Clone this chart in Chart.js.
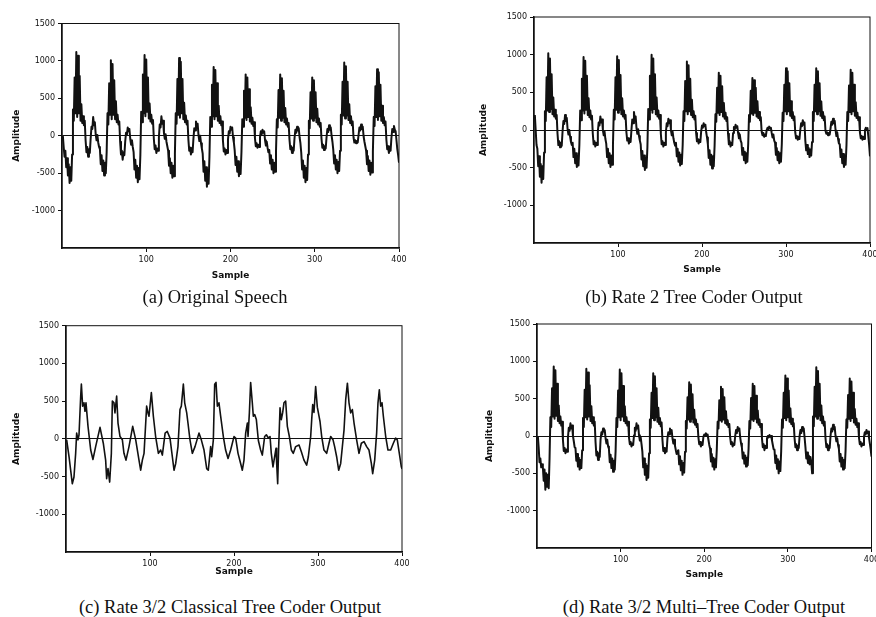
<!DOCTYPE html>
<html>
<head>
<meta charset="utf-8">
<script src="https://cdn.jsdelivr.net/npm/chart.js@4.4.0/dist/chart.umd.min.js"></script>
<style>
  html, body { margin: 0; padding: 0; background: #fff; }
  body { width: 876px; height: 617px; position: relative; overflow: hidden; }
  .plot { position: absolute; }
  .caption { position: absolute; font-family: "Liberation Serif", "Times New Roman", serif; font-size: 18.5px; color: #111;
             white-space: nowrap; transform: translate(-50%, -50%); }
</style>
</head>
<body>
<div class="plot" style="left:0px;top:15px;width:420px;height:275px"><canvas id="chartA"></canvas></div>
<div class="plot" style="left:472px;top:9px;width:404px;height:276px"><canvas id="chartB"></canvas></div>
<div class="plot" style="left:4px;top:318px;width:420px;height:276px"><canvas id="chartC"></canvas></div>
<div class="plot" style="left:475px;top:316px;width:401px;height:274px"><canvas id="chartD"></canvas></div>

<div class="caption" style="left:215px;top:297px">(a) Original Speech</div>
<div class="caption" style="left:694px;top:297px">(b) Rate 2 Tree Coder Output</div>
<div class="caption" style="left:230px;top:607px">(c) Rate 3/2 Classical Tree Coder Output</div>
<div class="caption" style="left:704px;top:607px">(d) Rate 3/2 Multi–Tree Coder Output</div>

<script>
// tick labels
const xTicks = [100, 200, 300, 400];
const yTicks = [1500, 1000, 500, 0, -500, -1000];

// (a) original speech, one value per sample (1..400)
const ampA = [
  0, -150, -280,
  -200,-420,-300,-530,-380,-630,-420,-600,-250,350,200,780,300,1120,250,1070,300,800,200,420,170,260,140,200,-60,-220,-150,-280,-180,-230,-40,120,90,250,140,180,20,-60,10,-90,-150,
  -180,-380,-260,-470,-330,-530,-360,-500,-220,300,150,700,280,1010,220,960,280,740,220,460,180,280,150,190,-80,-250,-200,-320,-220,-260,-80,40,10,110,60,90,-40,-120,-60,-150,
  -220,-450,-320,-560,-400,-620,-430,-580,-260,320,180,820,300,1080,260,1020,320,780,230,430,190,280,160,210,-40,-180,-130,-230,-170,-200,-20,150,110,260,160,200,40,-40,20,-80,-140,
  -200,-400,-300,-500,-360,-560,-400,-540,-240,300,160,760,280,1040,240,990,300,760,220,440,180,270,150,200,-50,-200,-160,-250,-180,-220,-40,100,70,190,120,160,10,-70,0,-100,-170,
  -240,-480,-340,-600,-420,-680,-450,-640,-280,250,120,680,260,920,220,880,260,700,200,400,170,260,140,190,-60,-210,-170,-250,-190,-230,-50,60,30,120,80,110,-20,-90,
  -200,-390,-280,-480,-340,-540,-380,-510,-220,220,120,600,240,820,210,780,250,620,190,380,160,240,130,180,-30,-140,-100,-160,-120,-150,-20,60,20,80,40,60,-60,-130,-80,-160,-220,
  -190,-370,-260,-450,-320,-500,-360,-480,-210,220,110,610,240,820,200,770,240,600,180,370,150,230,120,170,-50,-180,-140,-230,-160,-200,-30,80,40,120,70,100,-20,-100,
  -230,-450,-330,-560,-400,-620,-430,-590,-250,200,100,580,230,780,200,740,240,580,180,360,150,230,120,170,-40,-160,-120,-190,-140,-170,-20,90,50,140,80,110,0,-80,
  -190,-370,-260,-450,-320,-500,-350,-470,-200,280,150,720,270,980,230,930,270,720,210,420,170,260,140,190,-20,-90,-60,-100,-70,-90,10,110,70,150,90,120,-10,-80,-140,
  -200,-380,-270,-470,-330,-520,-360,-490,-210,250,130,660,250,890,210,850,260,680,200,400,170,250,140,190,-50,-180,-140,-230,-160,-200,-30,90,50,130,80,60,-60,-180,-260,-360
];

// (b) rate 2 tree coder output
const ampB = [
  200, 0, -200,
  -250,-480,-350,-620,-450,-700,-480,-650,-300,250,120,700,260,1020,240,950,280,740,210,430,180,270,150,200,-50,-200,-150,-230,-170,-210,-20,120,80,200,120,160,10,-60,0,-90,-160,-200,
  -170,-360,-250,-440,-310,-490,-340,-470,-200,260,130,680,260,970,220,920,270,720,200,420,170,260,140,190,-50,-190,-150,-220,-170,-200,-20,100,60,180,100,140,0,-70,-20,-120,
  -180,-360,-250,-440,-310,-490,-340,-460,-200,270,140,700,270,980,230,930,270,730,210,420,180,260,150,200,-30,-140,-110,-180,-130,-160,0,140,90,240,140,180,30,-50,10,-80,-140,
  -190,-390,-280,-480,-340,-530,-370,-500,-230,280,140,720,270,1000,230,950,280,740,210,430,180,260,150,200,-50,-190,-150,-220,-170,-200,-30,90,50,150,90,130,0,-70,-20,-110,-170,-210,
  -170,-350,-250,-420,-300,-470,-330,-450,-200,250,120,650,250,910,210,860,250,680,200,400,170,250,140,190,-40,-150,-120,-180,-130,-160,-20,60,30,90,50,70,-30,-100,
  -190,-370,-270,-460,-330,-510,-350,-480,-210,210,110,560,230,760,200,720,240,580,180,360,150,230,120,170,-50,-190,-150,-220,-170,-200,-40,40,10,70,30,50,-40,-110,-60,-140,
  -170,-330,-240,-400,-290,-440,-310,-420,-190,200,110,520,220,690,200,660,230,560,180,380,160,240,130,170,-20,-70,-40,-90,-60,-80,0,30,10,45,20,30,-40,-100,-60,-140,
  -170,-330,-240,-400,-290,-440,-310,-420,-190,230,120,600,250,820,210,780,250,620,190,380,160,240,130,180,-30,-110,-80,-130,-90,-120,0,90,50,130,70,100,
  -140,-270,-200,-320,-240,-360,-260,-340,-160,240,120,600,250,820,210,780,250,620,190,380,160,240,130,180,-10,-50,-30,-70,-40,-60,20,110,70,150,90,120,0,-80,-30,-120,-180,
  -190,-360,-260,-440,-320,-490,-340,-460,-200,240,120,590,240,800,210,760,250,600,190,370,160,230,130,170,-30,-110,-80,-130,-90,-120,0,30,10,25,-80,-200,-350
];

// (c) rate 3/2 classical tree coder output, read as (sample, amplitude) pairs
const sampleC = [0.8,3.6,7.5,9.5,11.5,12.7,14.3,15.5,17.5,18.3,19.8,21.4,22.6,23.8,26.2,29.4,32.1,35.3,40.5,44.4,
  47.2,48.4,50,52,54,55.2,57.1,58.3,60.3,61.9,64.3,67.1,69,71.4,75,79.4,83,86.9,88.9,90.9,
  92.9,96,97.6,98.8,101.6,104,106.7,110,112.7,114.7,118,120.6,123.8,126.6,128.6,130.6,133.3,135.7,137.3,139.7,
  141.3,143.7,145.2,147.6,150.4,153.6,158.3,161.1,164.3,167.5,169.4,172.2,173.4,175.4,177,178.6,180.2,182.1,184.1,187.3,
  190,192.9,196,200,202,204.8,207.9,209.9,211.9,213.9,215.9,216.7,218.3,219.8,221.8,223,224.6,226.6,229,231.7,
  233.7,236.5,238.5,240.9,242.9,244.4,246.4,248.4,250,250.8,252,253.2,254.8,256.3,257.9,259.5,261.5,263.5,265.9,268.3,
  270.6,273.4,277.4,280.2,283.3,286.5,288.5,291.3,292.5,293.7,295.2,297.2,299.2,301.2,302.4,304.4,307.1,310.3,313.1,315.1,
  317.9,319.8,322.2,324.6,327,329,331,333,335,336.9,338.9,340.9,342.9,346,348.8,351.6,354.8,357.9,360.7,363.5,
  365.1,367.5,369.8,371.4,373,374.6,376.2,377.8,380.6,383.3,386.5,389.7,392.4,394.4,396.8,399.2,400];
const ampC = [-15,-237,-595,-505,-192,76,-13,54,568,725,434,478,365,478,166,-148,-273,-103,152,-58,
  -282,-528,-394,-573,-192,501,478,344,568,210,31,-13,-192,-282,-103,166,-13,-282,-416,-282,
  -192,434,344,300,613,300,31,-192,-148,-215,76,98,9,-237,-416,-326,-103,389,434,725,
  478,344,210,-13,-192,-103,76,-13,-148,-394,-416,-103,-237,-13,725,748,434,478,300,31,
  -148,-260,-148,30,9,-192,-326,-416,-282,76,210,31,344,748,478,300,322,255,-22,-148,
  -215,31,54,9,31,-192,-371,-237,-125,-326,-595,-103,411,255,344,478,501,166,31,-148,
  -192,-103,-81,-170,-282,-349,-237,31,255,455,350,694,420,300,230,31,-148,-192,-58,31,
  -13,-103,-237,-416,-326,-103,120,523,738,478,344,389,210,-13,-192,-58,-36,-103,-148,-326,
  -461,-282,76,478,649,434,478,300,31,-148,-148,-58,9,-13,-192,-371,-400];

// (d) rate 3/2 multi-tree coder output
const ampD = [
  0, -150, -350, -300, -420, -380,
  -420,-600,-450,-720,-500,-680,-520,-700,-300,250,120,640,260,930,230,880,270,700,200,410,170,260,140,190,-50,-200,-160,-230,-180,-210,-20,110,70,170,100,140,0,-70,-150,
  -160,-330,-240,-410,-290,-450,-320,-430,-190,240,120,620,250,900,220,850,260,680,200,400,170,250,140,190,-80,-260,-210,-320,-230,-280,-50,50,20,100,60,80,-30,-100,-50,-140,
  -170,-350,-250,-430,-300,-480,-330,-450,-200,240,120,610,250,890,210,840,260,670,200,400,170,250,140,190,-20,-110,-80,-140,-100,-120,10,110,70,170,100,140,10,-60,-20,-110,
  -210,-420,-300,-520,-370,-590,-400,-560,-230,220,110,580,240,840,210,800,250,640,190,380,160,240,130,180,-50,-200,-160,-230,-180,-210,-30,50,20,100,60,80,-30,-100,-50,-130,-190,-240,-200,
  -190,-380,-270,-460,-330,-520,-360,-490,-210,200,100,520,220,720,190,690,230,560,180,350,150,220,120,160,-20,-110,-80,-140,-100,-120,-10,20,0,36,10,20,-50,-120,
  -170,-340,-240,-410,-290,-450,-310,-420,-180,190,100,480,210,660,190,630,220,520,170,330,150,210,120,160,-20,-110,-80,-140,-100,-120,0,80,40,120,70,100,-20,-100,
  -150,-300,-220,-370,-260,-410,-290,-390,-170,200,100,510,220,700,200,670,230,540,180,340,150,220,120,160,-30,-150,-110,-190,-130,-160,-30,0,-20,13,-10,0,-60,-120,-180,
  -180,-360,-260,-440,-310,-500,-340,-470,-200,220,110,580,240,810,210,770,250,610,190,370,160,230,130,170,-30,-150,-110,-190,-130,-160,0,80,40,120,70,100,-20,
  -150,-300,-220,-360,-260,-380,-280,-350,-500,260,130,660,260,920,230,870,270,700,210,410,170,260,140,190,-30,-150,-110,-190,-130,-160,0,100,60,150,90,120,0,-70,-30,-120,
  -170,-340,-240,-410,-290,-450,-320,-430,-190,220,110,550,230,770,200,730,240,580,180,360,150,230,120,170,-20,-110,-80,-140,-100,-120,-10,50,20,80,40,60,-20,-100,-180,-276
];

const INK = '#111';
const tickFont = { family: 'DejaVu Sans', size: 8 };
const titleFont = { family: 'DejaVu Sans', size: 9, weight: 'bold' };

const frame = {
  id: 'frame',
  afterDatasetsDraw(chart) {
    const { ctx, chartArea: a } = chart;
    ctx.save();
    ctx.strokeStyle = INK;
    ctx.lineWidth = 1;
    ctx.strokeRect(a.left, a.top, a.right - a.left, a.bottom - a.top);
    ctx.restore();
  }
};

function makePlot(id, points, lineWidth, pad, ampTitlePad, sampleTitlePad) {
  new Chart(document.getElementById(id), {
    type: 'line',
    data: {
      datasets: [{
        data: points,
        borderColor: INK,
        borderWidth: lineWidth,
        borderJoinStyle: 'round',
        pointRadius: 0,
        tension: 0,
        fill: false
      }]
    },
    options: {
      responsive: true,
      maintainAspectRatio: false,
      animation: false,
      layout: { padding: pad },
      plugins: { legend: { display: false }, tooltip: { enabled: false } },
      scales: {
        x: {
          type: 'linear',
          min: 0, max: 400,
          afterBuildTicks: s => { s.ticks = [0].concat(xTicks).map(v => ({ value: v })); },
          ticks: {
            autoSkip: false, maxRotation: 0, padding: 3, color: INK, font: tickFont,
            callback: v => (v === 0 ? '' : String(v))
          },
          grid: {
            drawOnChartArea: false, tickLength: 4,
            tickColor: c => (c.tick && c.tick.value === 0 ? 'rgba(0,0,0,0)' : INK)
          },
          border: { color: INK, width: 1.5 },
          title: { display: true, text: 'Sample', color: INK, font: titleFont, padding: { top: 0, bottom: sampleTitlePad } },
          afterFit: s => { s.height = 42; s.paddingLeft = 0; s.paddingRight = 0; }
        },
        y: {
          min: -1500, max: 1500,
          afterBuildTicks: s => { s.ticks = [-1500].concat(yTicks.slice().reverse()).map(v => ({ value: v })); },
          ticks: {
            padding: 3, color: INK, font: tickFont,
            callback: v => (v === -1500 ? '' : String(v))
          },
          grid: {
            tickLength: 4, lineWidth: 1,
            color: c => (c.tick && c.tick.value === 0 ? INK : 'rgba(0,0,0,0)'),
            tickColor: c => (c.tick && c.tick.value === -1500 ? 'rgba(0,0,0,0)' : INK)
          },
          border: { color: INK, width: 1.5 },
          title: { display: true, text: 'Amplitude', color: INK, font: titleFont, padding: { top: ampTitlePad, bottom: 0 } },
          afterFit: s => { s.width = 62; s.paddingTop = 0; s.paddingBottom = 0; }
        }
      }
    },
    plugins: [frame]
  });
}

const toPoints = arr => arr.map((v, i) => ({ x: i + 1, y: v }));

makePlot('chartA', toPoints(ampA), 2, { left: 0, top: 8.5, right: 21, bottom: 0 }, 11.6, 8.9);
makePlot('chartB', toPoints(ampB), 2, { left: 0, top: 8, right: 6, bottom: 0 }, 5.9, 9.6);
makePlot('chartC', sampleC.map((s, i) => ({ x: s, y: ampC[i] })), 1.6, { left: 0, top: 7.7, right: 22, bottom: 0 }, 7.3, 16.6);
makePlot('chartD', toPoints(ampD), 2, { left: 0, top: 8, right: 4.5, bottom: 0 }, 9.6, 9.6);
</script>
</body>
</html>
